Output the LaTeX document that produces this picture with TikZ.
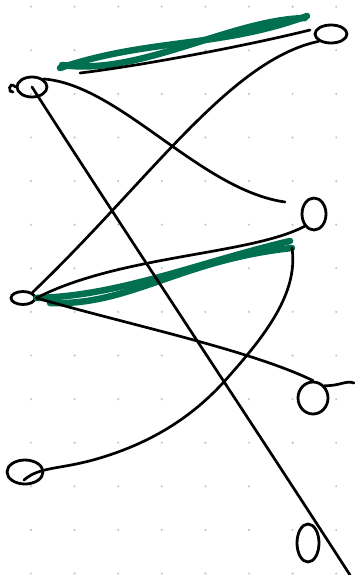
\documentclass[tikz,border=0pt]{standalone}
\usepackage{tikz}
\usetikzlibrary{positioning,calc,shapes.geometric}
\usepackage{xcolor}
\definecolor{pengreen}{RGB}{0,112,80}
\tikzset{
  vtx/.style     = {draw, ellipse, line width=2.8pt, inner sep=0pt},
  wire/.style    = {line width=2.7pt, line cap=round},
  hl/.style      = {pengreen, line width=6.5pt, line cap=round},
  griddot/.style = {fill=gray!45},
}

\begin{document}
\begin{tikzpicture}[x=1pt,y=-1pt]
\useasboundingbox (0,0) rectangle (354,575);
% ---- dot grid ----
\foreach \i in {0,...,7}
  \foreach \j in {0,...,13}
    \fill[griddot] (31+43.6*\i,6.7+43.6*\j) circle (1.2);
% ---- left vertices ----
\node[vtx, minimum width=30pt, minimum height=20pt] (l1) at (32,87) {};
\node[vtx, minimum width=24pt, minimum height=13pt] (l2) at (23,298) {};
\node[vtx, minimum width=36pt, minimum height=24pt] (l3) at (25,472) {};
% ---- right vertices ----
\node[vtx, minimum width=32pt, minimum height=18pt] (r1) at (331,34) {};
\node[vtx, minimum width=24pt, minimum height=32pt] (r2) at (314,214) {};
\node[vtx, minimum width=30pt, minimum height=32pt] (r3) at (313,398) {};
\node[vtx, minimum width=22pt, minimum height=38pt] (r4) at (308,543) {};
% ---- free ends ----
\coordinate (t1) at (80,73);
\coordinate (t2) at (310,30);
\coordinate (a2) at (285,202);
\coordinate (b2) at (292,248);
\coordinate (c4) at (350,575);
\coordinate (d3) at (354,383);
% ---- highlighted edges ----
\draw[hl] (60,68) .. controls (150,38) and (220,48) .. (307,16);
\draw[hl] (62,65) .. controls (140,76) and (230,20) .. (305,18);
\draw[hl] (l2.east) .. controls (120,296) and (200,262) .. (290,241);
\draw[hl] (50,303) .. controls (130,306) and (180,260) .. (b2);
% ---- edges ----
\draw[wire] (t1) .. controls (140,66) and (250,45) .. (t2);
\draw[wire] (l1.north east) .. controls (120,85) and (200,190) .. (a2);
\draw[wire] (l1.center) .. controls (130,240) and (250,420) .. (c4);
\draw[wire] (l2.north east) .. controls (150,180) and (230,60) .. (r1.south west);
\draw[wire] (l2.east) .. controls (120,255) and (250,255) .. (r2.south west);
\draw[wire] (l2.east) .. controls (130,325) and (250,350) .. (r3.north);
\draw[wire] (r3.north east) .. controls (340,386) and (346,380) .. (d3);
\draw[wire] (24,480) .. controls (40,466) and (60,470) .. (100,458)
  .. controls (160,440) and (200,410) .. (230,375)
  .. controls (270,330) and (298,290) .. (b2);
\draw[wire] (l1.west) .. controls (8,80) and (8,94) .. (13,92);
\end{tikzpicture}
\end{document}
